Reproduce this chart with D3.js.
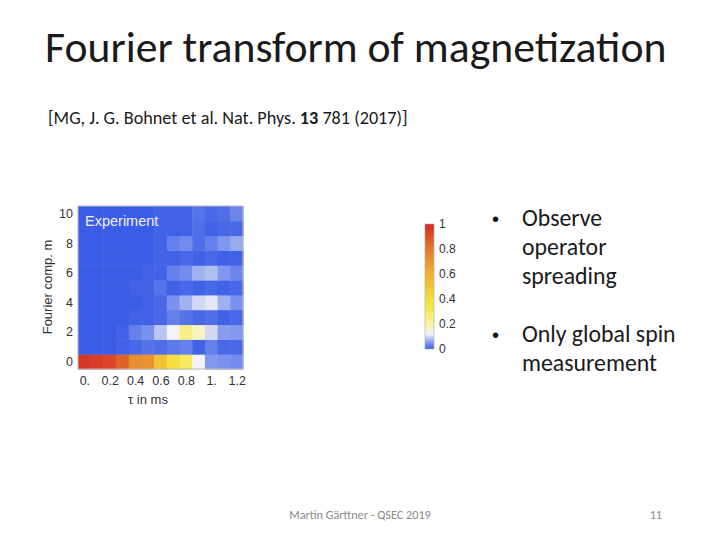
<!DOCTYPE html>
<html>
<head>
<meta charset="utf-8">
<script src="https://cdn.jsdelivr.net/npm/d3@7"></script>
<style>
  body { margin: 0; background: #fff; }
  svg { display: block; }
</style>
</head>
<body>
<script>
// tau values (ms), one column each
let tauValues = [0, 0.1, 0.2, 0.3, 0.4, 0.5, 0.6, 0.7, 0.8, 0.9, 1.0, 1.1, 1.2]
// Fourier components m, one row each
let fourierComps = [0, 1, 2, 3, 4, 5, 6, 7, 8, 9, 10]
// measured magnitude per row (m = 0 .. 10), columns follow tauValues
let row0  = [0.97, 0.95, 0.93, 0.86, 0.73, 0.71, 0.53, 0.38, 0.3, 0.12, 0.05, 0.045, 0.04]
let row1  = [0, 0, 0, 0.005, 0.01, 0.02, 0.015, 0.025, 0.03, 0.005, 0.03, 0.01, 0.01]
let row2  = [0, 0, 0, 0.005, 0.03, 0.045, 0.085, 0.12, 0.24, 0.17, 0.1, 0.055, 0.05]
let row3  = [0, 0, 0, 0, 0.005, 0.005, 0.01, 0.03, 0.02, 0.01, 0.015, 0.005, 0.01]
let row4  = [0, 0, 0, 0, 0, 0.005, 0.01, 0.045, 0.07, 0.1, 0.11, 0.07, 0.045]
let row5  = [0, 0, 0, 0, 0.005, 0.005, 0.02, 0.005, 0.01, 0.005, 0.01, 0.005, 0.01]
let row6  = [0, 0, 0, 0, 0, 0.005, 0.005, 0.03, 0.04, 0.07, 0.08, 0.05, 0.035]
let row7  = [0, 0, 0, 0, 0, 0, 0.005, 0.005, 0.01, 0.005, 0.01, 0.005, 0.005]
let row8  = [0, 0, 0, 0, 0, 0, 0.005, 0.03, 0.04, 0.015, 0.03, 0.05, 0.065]
let row9  = [0, 0, 0, 0, 0, 0, 0.005, 0.005, 0.005, 0.015, 0.005, 0.01, 0.01]
let row10 = [0, 0, 0, 0, 0, 0, 0.005, 0.005, 0.005, 0.02, 0.01, 0.015, 0.035]
let magnitude = [row0, row1, row2, row3, row4, row5, row6, row7, row8, row9, row10]

let xTickValues = [0, 0.2, 0.4, 0.6, 0.8, 1.0, 1.2]
let xTickLabels = ['0.', '0.2', '0.4', '0.6', '0.8', '1.', '1.2']
let yTickValues = [0, 2, 4, 6, 8, 10]
let barTickValues = [0, 0.2, 0.4, 0.6, 0.8, 1]

let bulletOne = ['Observe', 'operator', 'spreading']
let bulletTwo = ['Only global spin', 'measurement']

let calibri = "Carlito, Calibri, Lato, 'Open Sans', sans-serif"
let arial = "'Liberation Sans', Arial, sans-serif"

let svg = d3.select('body').append('svg')
  .attr('width', 720)
  .attr('height', 540)

// title and citation
svg.append('text')
  .attr('x', 45).attr('y', 62)
  .style('font-family', calibri)
  .style('font-size', '43.7px')
  .style('fill', '#1a1a1a')
  .text('Fourier transform of magnetization')

let cite = svg.append('text')
  .attr('x', 48).attr('y', 124)
  .style('font-family', calibri)
  .style('font-size', '18.2px')
  .style('fill', '#1a1a1a')
cite.append('tspan').text('[MG, J. G. Bohnet et al. Nat. Phys. ')
cite.append('tspan').style('font-weight', 'bold').text('13')
cite.append('tspan').text(' 781 (2017)]')

/* heat map */
let x = d3.scaleLinear().domain([-0.05, 1.25]).range([78, 243])
let y = d3.scaleLinear().domain([-0.5, 10.5]).range([369, 206])
let cellW = x(0.1) - x(0)
let cellH = y(0) - y(1)

let color = d3.scaleLinear()
  .domain([0, 0.06, 0.12, 0.2, 0.35, 0.6, 0.8, 1])
  .range(['#3a5ce6', '#8fa3ef', '#f4f4f8', '#f8f2a0', '#f6e640', '#efb234', '#e47a2c', '#d42a24'])
  .clamp(true)

let cells = []
magnitude.forEach((row, i) => {
  row.forEach((v, j) => {
    cells.push({ m: fourierComps[i], tau: tauValues[j], value: v })
  })
})

svg.append('g').selectAll('rect')
  .data(cells)
  .enter()
  .append('rect')
  .attr('x', d => x(d.tau) - cellW / 2)
  .attr('y', d => y(d.m) - cellH / 2)
  .attr('width', cellW + 0.5)
  .attr('height', cellH + 0.5)
  .attr('fill', d => color(d.value))

// frame
svg.append('rect')
  .attr('x', x(-0.05)).attr('y', y(10.5))
  .attr('width', x(1.25) - x(-0.05))
  .attr('height', y(-0.5) - y(10.5))
  .attr('fill', 'none')
  .attr('stroke', '#bbb')
  .attr('stroke-width', 1)

svg.append('text')
  .attr('x', 85).attr('y', 226)
  .style('font-family', arial)
  .style('font-size', '14.5px')
  .style('fill', '#eef2ff')
  .text('Experiment')

let xAxis = svg.append('g')
  .attr('transform', 'translate(0,' + y(-0.5) + ')')
  .call(d3.axisBottom(x).tickValues(xTickValues)
    .tickFormat((d, i) => xTickLabels[i]).tickSize(0).tickPadding(7))
xAxis.select('.domain').remove()
xAxis.selectAll('text')
  .style('font-family', arial).style('font-size', '12.5px').style('fill', '#333')

let yAxis = svg.append('g')
  .attr('transform', 'translate(' + x(-0.05) + ',0)')
  .call(d3.axisLeft(y).tickValues(yTickValues).tickSize(0).tickPadding(5))
yAxis.select('.domain').remove()
yAxis.selectAll('text')
  .style('font-family', arial).style('font-size', '12.5px').style('fill', '#333')

svg.append('text')
  .attr('x', 148).attr('y', 404)
  .attr('text-anchor', 'middle')
  .style('font-family', arial).style('font-size', '13px').style('fill', '#333')
  .text('τ in ms')

svg.append('text')
  .attr('transform', 'translate(52,287) rotate(-90)')
  .attr('text-anchor', 'middle')
  .style('font-family', arial).style('font-size', '13px').style('fill', '#333')
  .text('Fourier comp. m')

/* colour bar */
let barScale = d3.scaleLinear().domain([0, 1]).range([349, 224])
let defs = svg.append('defs')
let grad = defs.append('linearGradient')
  .attr('id', 'barGrad')
  .attr('x1', 0).attr('y1', 1).attr('x2', 0).attr('y2', 0)
d3.range(0, 1.0001, 0.02).forEach(t => {
  grad.append('stop').attr('offset', t).attr('stop-color', color(t))
})
svg.append('rect')
  .attr('x', 425).attr('y', barScale(1))
  .attr('width', 9).attr('height', barScale(0) - barScale(1))
  .attr('fill', 'url(#barGrad)')
  .attr('stroke', '#aaa').attr('stroke-width', 0.6)

let barAxis = svg.append('g')
  .attr('transform', 'translate(434,0)')
  .call(d3.axisRight(barScale).tickValues(barTickValues)
    .tickFormat(d => d === 0 || d === 1 ? d3.format('d')(d) : d3.format('.1f')(d))
    .tickSize(0).tickPadding(5))
barAxis.select('.domain').remove()
barAxis.selectAll('text')
  .style('font-family', arial).style('font-size', '12px').style('fill', '#333')

/* bullets */
function drawBullet(lines, top) {
  svg.append('text')
    .attr('x', 492).attr('y', top)
    .style('font-family', arial).style('font-size', '20px').style('fill', '#111')
    .text('•')
  lines.forEach((line, i) => {
    svg.append('text')
      .attr('x', 522).attr('y', top + i * 29)
      .style('font-family', calibri).style('font-size', '23.8px').style('fill', '#1a1a1a')
      .text(line)
  })
}
drawBullet(bulletOne, 226)
drawBullet(bulletTwo, 342)

// footer
svg.append('text')
  .attr('x', 360).attr('y', 519)
  .attr('text-anchor', 'middle')
  .style('font-family', calibri).style('font-size', '12.2px').style('fill', '#8a8a8a')
  .text('Martin Gärttner - QSEC 2019')
svg.append('text')
  .attr('x', 662).attr('y', 519)
  .attr('text-anchor', 'end')
  .style('font-family', calibri).style('font-size', '12.2px').style('fill', '#8a8a8a')
  .text('11')
</script>
</body>
</html>
